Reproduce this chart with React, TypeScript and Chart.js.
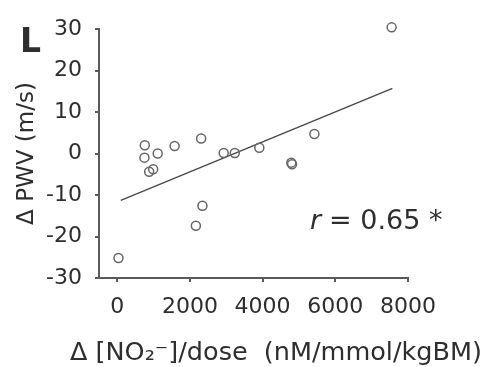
import { useEffect, useRef } from "react";
import { Chart, registerables } from "chart.js";

Chart.register(...registerables);

// ---- data ----
const xValues = [36, 760, 750, 1115, 880, 990, 1580, 2310, 2345, 2165, 2930, 3235, 3910, 4790, 4810, 5425, 7550];
const yValues = [-25.2, 2.0, -1.0, 0, -4.4, -3.8, 1.8, 3.6, -12.6, -17.4, 0.1, 0.1, 1.4, -2.2, -2.6, 4.7, 30.4];
const fitX = [100, 7570];
const fitY = [-11.3, 15.7];
const xTicks = [0, 2000, 4000, 6000, 8000];
const yTicks = [-30, -20, -10, 0, 10, 20, 30];
const xTitle = "Δ [NO₂⁻]/dose  (nM/mmol/kgBM)";
const yTitle = "Δ PWV (m/s)";
const panelLabel = "L";
const rSymbol = "r";
const rText = "= 0.65 *";

const FONT = '"DejaVu Sans", sans-serif';
const TEXT = "#2e2e2e";
const AXIS = "#5a5a5a";

const annotPlugin = {
  id: "annot",
  afterDraw(chart: any) {
    const { ctx } = chart;
    ctx.save();
    ctx.fillStyle = TEXT;
    ctx.textAlign = "left";
    ctx.textBaseline = "alphabetic";
    ctx.font = `bold 33px ${FONT}`;
    ctx.fillText(panelLabel, 20, 52);
    ctx.font = `italic 27px ${FONT}`;
    ctx.fillText(rSymbol, 310, 229);
    ctx.font = `27px ${FONT}`;
    ctx.fillText(rText, 329, 229);
    ctx.font = `25.5px ${FONT}`;
    ctx.fillText(xTitle, 70, 360);
    ctx.restore();
  },
};

export default function App() {
  const ref = useRef<HTMLCanvasElement | null>(null);
  useEffect(() => {
    document.body.style.margin = "0";
    const canvas = ref.current;
    if (!canvas) return;
    const points = xValues.map((x, i) => ({ x, y: yValues[i] }));
    const fit = fitX.map((x, i) => ({ x, y: fitY[i] }));
    const chart = new Chart(canvas, {
      type: "scatter",
      data: {
        datasets: [
          {
            data: points,
            pointRadius: 4.5,
            pointBorderWidth: 1.5,
            pointBorderColor: "#666",
            pointBackgroundColor: "rgba(255,255,255,0)",
            showLine: false,
            clip: false,
          },
          {
            data: fit,
            showLine: true,
            borderColor: "#4a4a4a",
            borderWidth: 1.5,
            pointRadius: 0,
            clip: false,
          },
        ],
      },
      options: {
        animation: false,
        responsive: false,
        events: [],
        layout: { padding: { top: 29, right: 79, left: 0, bottom: 0 } },
        plugins: { legend: { display: false }, tooltip: { enabled: false } },
        scales: {
          x: {
            type: "linear",
            min: -500,
            max: 8000,
            afterBuildTicks: (s: any) => {
              s.ticks = xTicks.map((v) => ({ value: v }));
            },
            afterFit: (s: any) => {
              s.height = 89;
            },
            border: { display: true, color: AXIS, width: 2 },
            grid: { drawOnChartArea: false, drawTicks: true, tickLength: 4, color: AXIS, lineWidth: 2 },
            ticks: {
              color: TEXT,
              font: { family: FONT, size: 22 },
              padding: 12,
              maxRotation: 0,
              autoSkip: false,
              callback: (v: any) => String(v),
            },
          },
          y: {
            type: "linear",
            min: -30,
            max: 30,
            afterBuildTicks: (s: any) => {
              s.ticks = yTicks.map((v) => ({ value: v }));
            },
            afterFit: (s: any) => {
              s.width = 99;
            },
            border: { display: true, color: AXIS, width: 2 },
            grid: { drawOnChartArea: false, drawTicks: true, tickLength: 4, color: AXIS, lineWidth: 2 },
            ticks: {
              color: TEXT,
              font: { family: FONT, size: 22 },
              padding: 13,
              callback: (v: any) => String(v),
            },
            title: {
              display: true,
              text: yTitle,
              color: TEXT,
              font: { family: FONT, size: 23 },
              padding: { top: 13, bottom: 0 },
            },
          },
        },
      },
      plugins: [annotPlugin],
    } as any);
    return () => chart.destroy();
  }, []);
  return (
    <div style={{ width: 487, height: 367, background: "#fff" }}>
      <canvas ref={ref} width={487} height={367} style={{ display: "block" }} />
    </div>
  );
}
